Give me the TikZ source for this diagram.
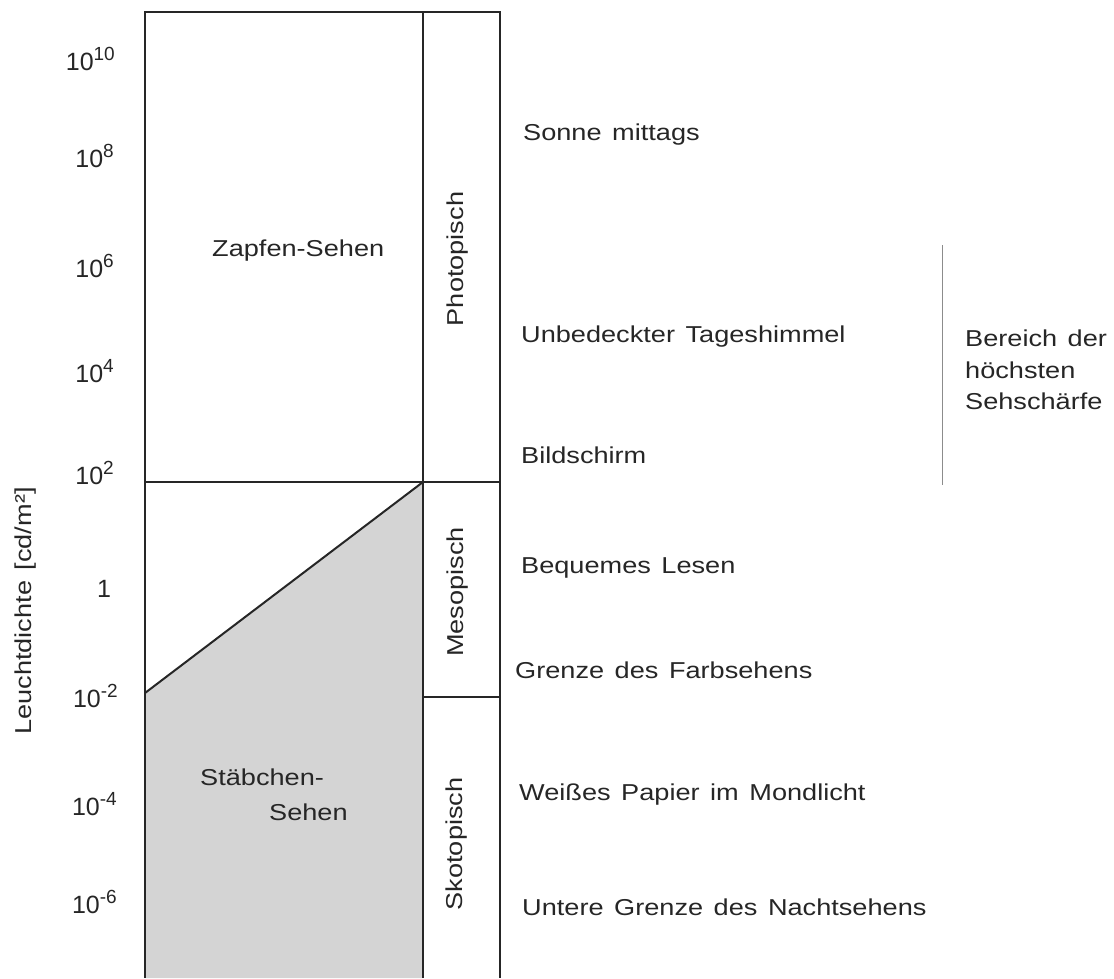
\documentclass[tikz,border=0pt]{standalone}
\usepackage{fontspec}
\setmainfont{Liberation Sans}
\newfontfamily\labfont[FakeStretch=1.18, WordSpace=1.4]{Liberation Sans}
\newcommand{\pwr}[1]{10\raisebox{10pt}{\fontsize{19}{19}\selectfont #1}}
\begin{document}
\begin{tikzpicture}[x=1pt,y=-1pt,
  txt/.style={font=\labfont\fontsize{23}{31.5}\selectfont, inner sep=0pt, text=black!85},
  tick/.style={font=\fontsize{25}{29}\selectfont, inner sep=0pt, anchor=base east, text=black!85},
  frame/.style={line width=2pt, black!85},
  thin/.style={line width=1pt, black!45},
  rodfill/.style={fill=black!17}]
\useasboundingbox (0,0) rectangle (1114,978);
% corner coordinates
\coordinate (tl) at (145,12);
\coordinate (tm) at (423,12);
\coordinate (tr) at (500,12);
\coordinate (bl) at (145,978);
\coordinate (bm) at (423,978);
\coordinate (br) at (500,978);
\coordinate (hl) at (145,482);
\coordinate (hm) at (423,482);
\coordinate (hr) at (500,482);
\coordinate (dl) at (145,693);
\coordinate (sm) at (423,697);
\coordinate (sr) at (500,697);
% grey rod region
\fill[rodfill] (dl) -- (hm) -- (bm) -- (bl) -- cycle;
% frame
\draw[frame] (bl) -- (tl) -- (tr) -- (br);
\draw[frame] (tm) -- (bm);
\draw[frame] (hl) -- (hr);
\draw[frame] (sm) -- (sr);
\draw[frame] (dl) -- (hm);
% tick labels
\node[tick] (t10) at (115,70) {\pwr{10}};
\node[tick] (t8) at (114,167) {\pwr{8}};
\node[tick] (t6) at (114,277) {\pwr{6}};
\node[tick] (t4) at (114,382) {\pwr{4}};
\node[tick] (t2) at (114,484) {\pwr{2}};
\node[tick, anchor=base] (t0) at (104,597) {1};
\node[tick] (tm2) at (118,707) {\pwr{-2}};
\node[tick] (tm4) at (117,815) {\pwr{-4}};
\node[tick] (tm6) at (117,913) {\pwr{-6}};
% axis title
\node[txt, rotate=90] (axis) at (26,611) {Leuchtdichte [cd/m²]};
% region labels
\node[txt, anchor=base west] (zapfen) at (212,256) {Zapfen-Sehen};
\node[txt, anchor=base west] (staeb) at (200,785) {Stäbchen-};
\node[txt, anchor=base west] (sehen) at (269,820) {Sehen};
\node[txt, rotate=90] (photo) at (458,259) {Photopisch};
\node[txt, rotate=90] (meso) at (458,592) {Mesopisch};
\node[txt, rotate=90] (skoto) at (457,844) {Skotopisch};
% examples
\node[txt, anchor=base west] (sonne) at (523,140) {Sonne mittags};
\node[txt, anchor=base west] (himmel) at (521,342) {Unbedeckter Tageshimmel};
\node[txt, anchor=base west] (bild) at (521,463) {Bildschirm};
\node[txt, anchor=base west] (lesen) at (521,573) {Bequemes Lesen};
\node[txt, anchor=base west] (farb) at (515,678) {Grenze des Farbsehens};
\node[txt, anchor=base west] (papier) at (519,800) {Weißes Papier im Mondlicht};
\node[txt, anchor=base west] (nacht) at (522,915) {Untere Grenze des Nachtsehens};
% range of highest acuity
\coordinate (ra) at (942,245);
\coordinate (rb) at (942,485);
\draw[thin] (ra) -- (rb);
\node[txt, anchor=north west, align=left] (bereich) at (965,330) {Bereich der\\höchsten\\Sehschärfe};
\end{tikzpicture}
\end{document}
